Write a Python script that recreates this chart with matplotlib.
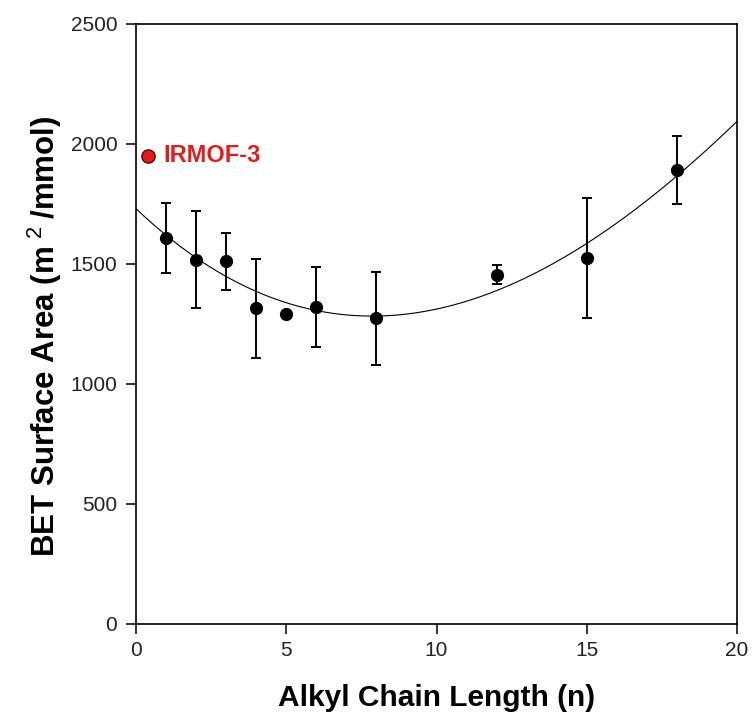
import numpy as np
import matplotlib
matplotlib.use("Agg")
import matplotlib.pyplot as plt

plt.rcParams['font.family'] = ['Liberation Sans', 'DejaVu Sans']
plt.rcParams['mathtext.fontset'] = 'custom'
plt.rcParams['mathtext.rm'] = 'Liberation Sans'
plt.rcParams['mathtext.bf'] = 'Liberation Sans:bold'

# BET surface area vs alkyl chain length
chain_n = [1, 2, 3, 4, 5, 6, 8, 12, 15, 18]
bet_area = [1607, 1517, 1511, 1315, 1293, 1322, 1274, 1455, 1526, 1892]
bet_err = [146, 202, 120, 205, 0, 167, 193, 39, 250, 140]

# parent framework reference point
irmof_n = [0.4]
irmof_area = [1951]

# trend line
trend_n = [0, 1, 2, 3, 4, 5, 6, 7, 8, 9, 10, 11, 12, 13, 14, 15, 16, 17, 18, 19, 20]
trend_area = [1722, 1628, 1531, 1450, 1378, 1336, 1315, 1281, 1281, 1288, 1318,
              1347, 1385, 1448, 1510, 1586, 1662, 1764, 1878, 1978, 2089]

fig = plt.figure(figsize=(7.52, 7.14), dpi=100)
ax = fig.add_axes([0.1809, 0.1261, 0.7992, 0.8403])

coef = np.polyfit(trend_n, trend_area, 3)
xs = np.linspace(0, 20, 200)
ax.plot(xs, np.polyval(coef, xs), color='black', lw=0.8)

ax.errorbar(chain_n, bet_area, yerr=bet_err, fmt='o', color='black', ms=8.5,
            elinewidth=1.4, capsize=3.5, capthick=1.4, zorder=3)

ax.plot(irmof_n, irmof_area, 'o', ms=9.5, mfc='#e41c1c', mec='#5a0000', mew=1.0, zorder=4)
ax.text(0.9, irmof_area[0], 'IRMOF-3', color='#e41c1c', fontsize=17, fontweight='bold',
        va='center', ha='left')

ax.set_xlim(0, 20)
ax.set_ylim(0, 2500)
ax.set_xticks([0, 5, 10, 15, 20])
ax.set_yticks([0, 500, 1000, 1500, 2000, 2500])
ax.tick_params(direction='out', length=7.5, width=1.1, labelsize=15, color='black',
               labelcolor='#222222')
ax.tick_params(axis='y', pad=6)
ax.tick_params(axis='x', pad=5)
for s in ax.spines.values():
    s.set_linewidth(1.2)

ax.set_xlabel('Alkyl Chain Length (n)', fontsize=21.5, fontweight='bold', labelpad=17)
ax.set_ylabel('BET Surface Area (m$^{\\ \\mathrm{2}\\ }$/mmol)', fontsize=22.5,
              fontweight='bold')
ax.yaxis.set_label_coords(-0.12, 0.48)

fig.savefig('out.png', dpi=100)
